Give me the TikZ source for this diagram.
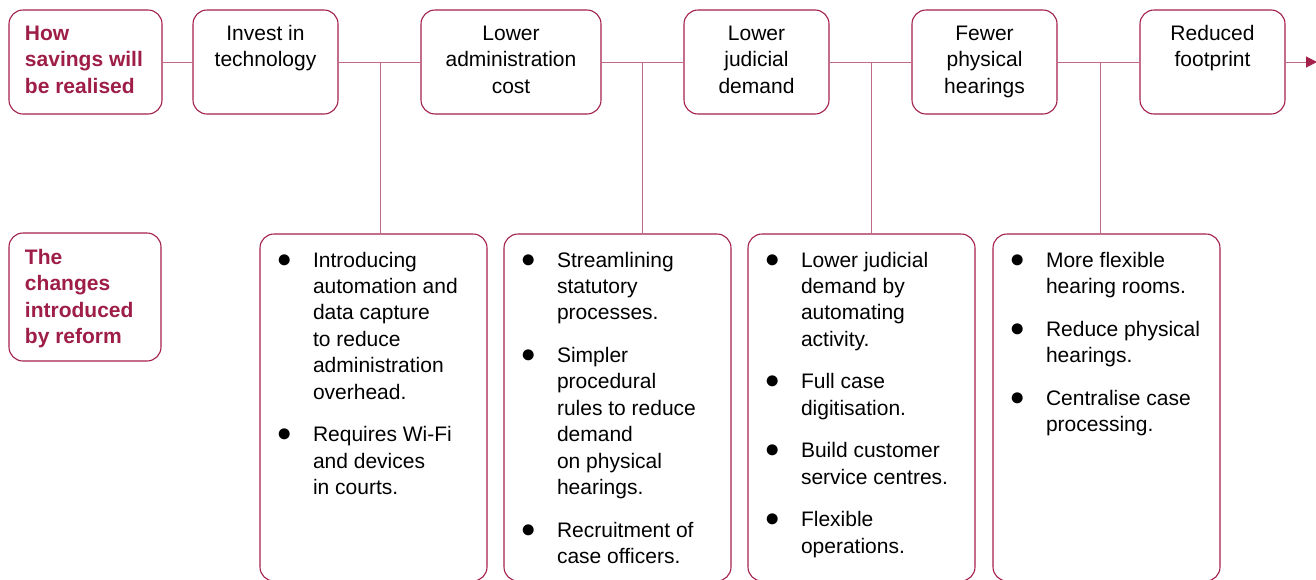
\documentclass[tikz,border=0pt]{standalone}
\usepackage{fontspec}
\setmainfont{Liberation Sans}
\usetikzlibrary{arrows.meta}

\definecolor{crim}{HTML}{A3204B}
\definecolor{crimtext}{HTML}{9E1E47}
\definecolor{wire}{HTML}{C06A84}

% centred heading text, top aligned inside a box of given width/height
\newcommand\headtext[3]{\parbox[c][#2][t]{#1}{\centering\vspace*{11.5pt}\strut #3}}
% left aligned bold red text, top aligned
\newcommand\sidetext[4]{\parbox[c][#2][t]{#1}{\raggedright\leftskip=16pt\color{crimtext}\bfseries\vspace*{#3}\strut #4}}
% bullet list body
\newcommand\listtext[1]{\parbox[c][347pt][t]{227pt}{\fontsize{21}{26.4}\selectfont\raggedright\vspace*{14.7pt}#1}}
\newcommand\bitem[1]{\par\hangindent=53pt\hangafter=1\noindent
  \makebox[53pt][l]{\hspace{16.5pt}{\fontsize{25.5}{25.5}\selectfont ●}}%
  \strut{\def\\{\newline}#1}\par}
\newcommand\itemgap{\vspace{16.2pt}}

\begin{document}
\begin{tikzpicture}[x=1pt,y=-1pt,
  box/.style={draw=crim, line width=1.1pt, rounded corners=14pt, inner sep=0pt,
              fill=white, font=\fontsize{21}{26.6}\selectfont},
  wire/.style={draw=wire, line width=1pt}]
\useasboundingbox (0,0) rectangle (1316,579);
\clip (0,0) rectangle (1316,579);

% top row: savings chain
\node[box] (src)   at (85.5,62)  {\sidetext{153pt}{104pt}{11.5pt}{How\\savings will\\be realised}};
\node[box] (tech)  at (265.5,62) {\headtext{145pt}{104pt}{Invest in\\technology}};
\node[box] (admin) at (511,62)   {\headtext{180pt}{104pt}{Lower\\administration\\cost}};
\node[box] (judic) at (756.5,62) {\headtext{145pt}{104pt}{Lower\\judicial\\demand}};
\node[box] (hear)  at (984.5,62) {\headtext{145pt}{104pt}{Fewer\\physical\\hearings}};
\node[box] (foot)  at (1212.5,62){\headtext{145pt}{104pt}{Reduced\\footprint}};

% bottom row: reform changes
\node[box] (chg) at (85,297) {\sidetext{152pt}{128pt}{12.5pt}{The\\changes\\introduced\\by reform}};

\node[box] (b1) at (373.5,407.5) {\listtext{%
  \bitem{Introducing\\automation and\\data capture\\to reduce\\administration\\overhead.}\itemgap
  \bitem{Requires Wi-Fi\\and devices\\in courts.}}};
\node[box] (b2) at (617.5,407.5) {\listtext{%
  \bitem{Streamlining\\statutory\\processes.}\itemgap
  \bitem{Simpler\\procedural\\rules to reduce\\demand\\on physical\\hearings.}\itemgap
  \bitem{Recruitment of\\case officers.}}};
\node[box] (b3) at (861.5,407.5) {\listtext{%
  \bitem{Lower judicial\\demand by\\automating\\activity.}\itemgap
  \bitem{Full case\\digitisation.}\itemgap
  \bitem{Build customer\\service centres.}\itemgap
  \bitem{Flexible\\operations.}}};
\node[box] (b4) at (1106.5,407.5) {\listtext{%
  \bitem{More flexible\\hearing rooms.}\itemgap
  \bitem{Reduce physical\\hearings.}\itemgap
  \bitem{Centralise case\\processing.}}};

% chain connectors
\draw[wire] (src) -- (tech);
\draw[wire] (tech) -- (admin);
\draw[wire] (admin) -- (judic);
\draw[wire] (judic) -- (hear);
\draw[wire] (hear) -- (foot);
\coordinate (tail) at (1317,62);
\draw[wire, -{Triangle[length=11pt,width=11pt,color=crim]}] (foot) -- (tail);

% drops to the change boxes
\coordinate (j1) at (380,62);
\coordinate (j2) at (642,62);
\coordinate (j3) at (871,62);
\coordinate (j4) at (1100,62);
\draw[wire] (j1) -- (j1 |- b1.north);
\draw[wire] (j2) -- (j2 |- b2.north);
\draw[wire] (j3) -- (j3 |- b3.north);
\draw[wire] (j4) -- (j4 |- b4.north);
\end{tikzpicture}
\end{document}
